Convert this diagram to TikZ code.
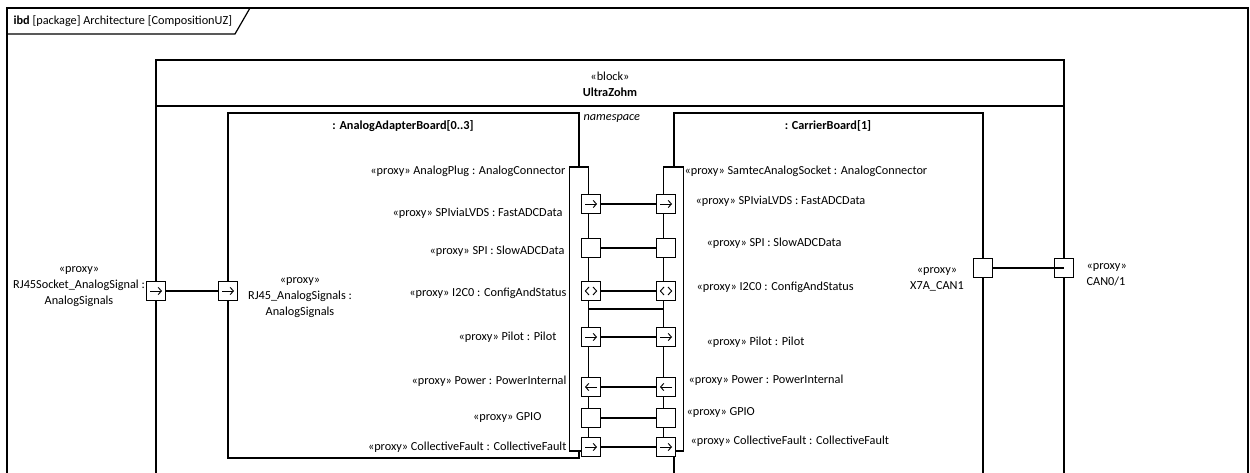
\documentclass[tikz,border=0pt]{standalone}
\usepackage{fontspec}
\setmainfont{Carlito}
\usetikzlibrary{arrows.meta,calc}
\begin{document}
\begin{tikzpicture}[x=0.75pt,y=-0.75pt,
  line width=0.9pt,
  every node/.style={font=\fontsize{9.2}{12}\selectfont, inner sep=0pt},
  port/.style={draw, fill=white, minimum width=14pt, minimum height=14pt, inner sep=0pt},
  plug/.style={draw, fill=white, minimum width=14.5pt, minimum height=213pt, inner sep=0pt},
  barb/.style={-{Straight Barb[length=2.4pt,width=5.5pt]}, line width=0.7pt},
  chev/.style={line width=0.7pt},
  lbl/.style={anchor=east},
  rlbl/.style={anchor=west}
]
\useasboundingbox (0,0) rectangle (1250,473);
\clip (0,0) rectangle (1250,473);

% diagram frame
\draw (7,520) -- (7,8) -- (1248,8) -- (1248,520);
\draw (7,34) -- (235,34) -- (250,8);
\node[anchor=west] (title) at (13,21) {\textbf{ibd} [package] Architecture [CompositionUZ]};

% UltraZohm block
\draw (156,60) rectangle (1064,520);
\draw (156,106) -- (1064,106);
\node (stereo) at (610,76) {«block»};
\node (uz) at (610,92) {\textbf{UltraZohm}};

% parts
\draw (228,113) rectangle (579,458);
\node (aab) at (403,126) {\textbf{: AnalogAdapterBoard[0..3]}};
\draw (674,113) rectangle (983,520);
\node (cb) at (828,126) {\textbf{: CarrierBoard[1]}};
\node[anchor=west] (ns) at (583,119) {\textit{namespace}};

% nested plug ports
\node[plug] (lplug) at (579,309) {};
\node[plug] (rplug) at (673.5,309) {};
\draw (lplug.east) -- (rplug.west);

% outer labels (drawn before ports so squares cover the colon)
\node[align=center] (extlbl) at (79,287) {«proxy»\\RJ45Socket\_AnalogSignal :\\AnalogSignals};
\node[align=center] (intlbl) at (300,298) {«proxy»\\RJ45\_AnalogSignals :\\AnalogSignals};
\node[align=center] (x7albl) at (937,279) {«proxy»\\X7A\_CAN1};
\node[align=left, anchor=west] (canlbl) at (1086,275) {«proxy»\\CAN0/1};

% small ports on the nested plugs
\foreach \i/\y in {1/204,2/248,3/291,4/337,5/387,6/418,7/447} {
  \node[port] (lp\i) at (591,\y) {};
  \node[port] (rp\i) at (666,\y) {};
  \draw (lp\i) -- (rp\i);
}

% boundary ports
\node[port] (rjext) at (156,291) {};
\node[port] (rjint) at (228,291) {};
\draw (rjext) -- (rjint);
\node[port] (x7a) at (983,268) {};
\node[port] (can) at (1064,268) {};
\draw (x7a.east) -- (can.center);

% direction glyphs
\foreach \n in {lp1,rp1,lp4,rp4,lp7,rp7,rjext,rjint} {
  \draw[barb] ([xshift=-4.5pt]\n.center) -- ([xshift=4.5pt]\n.center);
}
\foreach \n in {lp5,rp5} {
  \draw[barb] ([xshift=4.5pt]\n.center) -- ([xshift=-4.5pt]\n.center);
}
\foreach \n in {lp3,rp3} {
  \draw[chev] ([xshift=-1.5pt,yshift=3pt]\n.center) -- ([xshift=-4.2pt]\n.center) -- ([xshift=-1.5pt,yshift=-3pt]\n.center);
  \draw[chev] ([xshift=1.5pt,yshift=3pt]\n.center) -- ([xshift=4.2pt]\n.center) -- ([xshift=1.5pt,yshift=-3pt]\n.center);
}

% port labels, left part
\node[lbl] (l0) at (566,171) {«proxy» AnalogPlug : AnalogConnector};
\node[lbl] (l1) at (563,213) {«proxy» SPIviaLVDS : FastADCData};
\node[lbl] (l2) at (565,251) {«proxy» SPI : SlowADCData};
\node[lbl] (l3) at (567,293) {«proxy» I2C0 : ConfigAndStatus};
\node[lbl] (l4) at (557,337) {«proxy» Pilot : Pilot};
\node[lbl] (l5) at (567,381) {«proxy» Power : PowerInternal};
\node[lbl] (l6) at (542,418) {«proxy» GPIO};
\node[lbl] (l7) at (567,447) {«proxy» CollectiveFault : CollectiveFault};

% port labels, right part
\node[rlbl] (r0) at (684,171) {«proxy» SamtecAnalogSocket : AnalogConnector};
\node[rlbl] (r1) at (695,201) {«proxy» SPIviaLVDS : FastADCData};
\node[rlbl] (r2) at (706,243) {«proxy» SPI : SlowADCData};
\node[rlbl] (r3) at (696,287) {«proxy» I2C0 : ConfigAndStatus};
\node[rlbl] (r4) at (706,342) {«proxy» Pilot : Pilot};
\node[rlbl] (r5) at (688,380) {«proxy» Power : PowerInternal};
\node[rlbl] (r6) at (686,413) {«proxy» GPIO};
\node[rlbl] (r7) at (690,441) {«proxy» CollectiveFault : CollectiveFault};
\end{tikzpicture}
\end{document}
